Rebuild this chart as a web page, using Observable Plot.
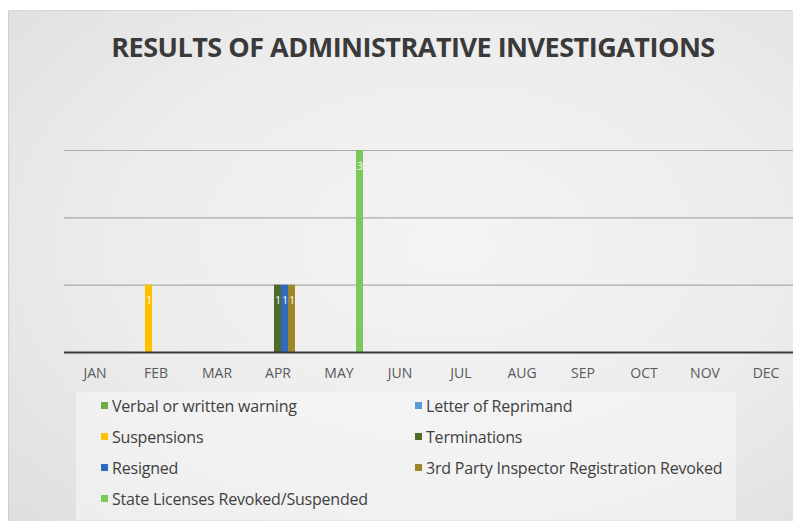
<!DOCTYPE html>
<html>
<head>
<meta charset="utf-8">
<script src="https://cdn.jsdelivr.net/npm/d3@7"></script>
<script src="https://cdn.jsdelivr.net/npm/@observablehq/plot@0.6"></script>
<style>
  html, body { margin: 0; padding: 0; width: 793px; height: 521px; overflow: hidden; background: #fff; }
  #panel {
    position: absolute; left: 8px; top: 10px; width: 800px; height: 520px;
    background: radial-gradient(ellipse at 55% 45%, #f4f4f4 0%, #ececec 55%, #dedede 100%);
    border-left: 1px solid #cfcfcf; border-top: 1px solid #d8d8d8;
    font-family: "Open Sans", Lato, sans-serif;
  }
  #title {
    position: absolute; left: 0; top: 17px; width: 808px; text-align: center;
    font-family: "Open Sans", sans-serif; font-weight: 700; font-size: 27px;
    color: #3a3a3a; letter-spacing: -0.5px;
  }
  #chart { position: absolute; left: -8px; top: 120px; }
  #legend {
    position: absolute; left: 67px; top: 381px; width: 660px; height: 128px;
    background: rgba(246,246,246,0.6);
  }
  .item { position: absolute; font-size: 16px; color: #3f3f3f; white-space: nowrap; letter-spacing: -0.2px; }
  .item span.sw { display: inline-block; width: 7px; height: 7px; margin-right: 4px; vertical-align: 3px; }
</style>
</head>
<body>
<div id="panel">
  <div id="title">RESULTS OF ADMINISTRATIVE INVESTIGATIONS</div>
  <div id="chart"></div>
  <div id="legend"></div>
</div>
<script>
// Months along the category axis
const months = ["JAN", "FEB", "MAR", "APR", "MAY", "JUN", "JUL", "AUG", "SEP", "OCT", "NOV", "DEC"];

// Outcome categories, in series order
const series = [
  "Verbal or written warning",
  "Letter of Reprimand",
  "Suspensions",
  "Terminations",
  "Resigned",
  "3rd Party Inspector Registration Revoked",
  "State Licenses Revoked/Suspended"
];

const seriesColors = ["#70ad47", "#5b9bd5", "#ffc000", "#4f6a2a", "#2e6bbf", "#a0862a", "#7dc85a"];

// Counts per series for each month (0 = none)
const verbalWarning    = [0, 0, 0, 0, 0, 0, 0, 0, 0, 0, 0, 0];
const letterReprimand  = [0, 0, 0, 0, 0, 0, 0, 0, 0, 0, 0, 0];
const suspensions      = [0, 1, 0, 0, 0, 0, 0, 0, 0, 0, 0, 0];
const terminations     = [0, 0, 0, 1, 0, 0, 0, 0, 0, 0, 0, 0];
const resigned         = [0, 0, 0, 1, 0, 0, 0, 0, 0, 0, 0, 0];
const thirdParty       = [0, 0, 0, 1, 0, 0, 0, 0, 0, 0, 0, 0];
const stateLicenses    = [0, 0, 0, 0, 3, 0, 0, 0, 0, 0, 0, 0];

const gridValues = [1, 2, 3];

const seriesValues = [verbalWarning, letterReprimand, suspensions, terminations, resigned, thirdParty, stateLicenses];

const rows = [];
seriesValues.forEach((vals, si) => {
  vals.forEach((v, mi) => {
    if (v > 0) rows.push({month: months[mi], series: series[si], value: v});
  });
});

// Gridlines and baseline repeated in every month panel so they run across the whole plot
const grid = months.flatMap((m) => gridValues.map((g) => ({month: m, value: g})));
const base = months.map((m) => ({month: m, value: 0}));

const chart = Plot.plot({
  width: 799,
  height: 255,
  marginLeft: 59,
  marginRight: 0,
  marginTop: 19,
  marginBottom: 34,
  style: {background: "transparent", fontFamily: "'Open Sans', sans-serif"},
  fx: {domain: months, padding: 0, label: null},
  x: {domain: series, paddingInner: 0.05, paddingOuter: 0.6, axis: null},
  y: {domain: [0, 3], axis: null},
  color: {domain: series, range: seriesColors},
  marks: [
    Plot.ruleY(grid, {fx: "month", y: "value", stroke: "#9a9a9a", strokeWidth: 1.2, strokeOpacity: 0.8}),
    Plot.barY(rows, {fx: "month", x: "series", y: "value", fill: "series"}),
    Plot.text(rows, {fx: "month", x: "series", y: "value", text: "value", fill: "white", fontSize: 10, dy: 16}),
    Plot.ruleY(base, {fx: "month", y: "value", stroke: "#3a3a3a", strokeWidth: 2}),
    Plot.axisFx({anchor: "bottom", tickSize: 0, tickPadding: 16, fontSize: 14, fill: "#5a5a5a", label: null})
  ]
});
document.getElementById("chart").appendChild(chart);

// Two-column legend
const legend = document.getElementById("legend");
const colLeft = [25, 339];
const rowTop = [15, 46, 77, 108];
series.forEach((name, i) => {
  const el = document.createElement("div");
  el.className = "item";
  el.style.left = colLeft[i % 2] + "px";
  el.style.top = (rowTop[Math.floor(i / 2)] - 12) + "px";
  el.innerHTML = `<span class="sw" style="background:${seriesColors[i]}"></span>`;
  el.appendChild(document.createTextNode(name));
  legend.appendChild(el);
});
</script>
</body>
</html>
